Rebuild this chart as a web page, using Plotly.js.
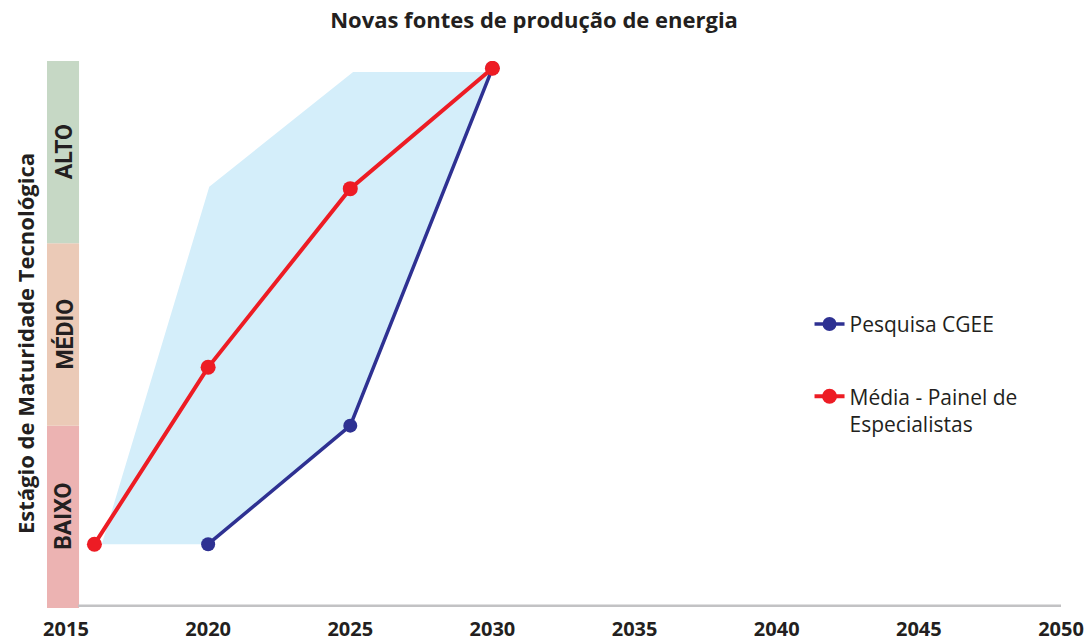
<!DOCTYPE html>
<html>
<head>
<meta charset="utf-8">
<script src="https://cdn.plot.ly/plotly-3.0.1.min.js"></script>
<style>html,body{margin:0;padding:0;background:#fff;}#chart{width:1089px;height:643px;}</style>
</head>
<body>
<div id="chart"></div>
<script>
// Data
const yearsCGEE = [2020, 2025, 2030];
const levelCGEE = [0.35, 1.0, 2.96];
const yearsPainel = [2016, 2020, 2025, 2030];
const levelPainel = [0.35, 1.32, 2.30, 2.96];
// shaded range (upper bound then back along lower bound)
const rangeYears = [2016.26, 2020.04, 2025.1, 2029.8, 2030, 2025, 2020, 2016.26];
const rangeLevels = [0.35, 2.31, 2.94, 2.94, 2.96, 1.0, 0.35, 0.35];
const levelNames = ['BAIXO', 'MÉDIO', 'ALTO'];
const levelColors = ['#ecb3b2', '#ebcab7', '#c6d8c5'];
const xTicks = [2015, 2020, 2025, 2030, 2035, 2040, 2045, 2050];
const seriesNames = ['Pesquisa CGEE', 'Média - Painel de<br>Especialistas'];

const txt = '#231f20';
const fontMain = '"Open Sans", "Noto Sans", sans-serif';

const traces = [
  {x: rangeYears, y: rangeLevels, type: 'scatter', mode: 'lines', fill: 'toself',
   fillcolor: '#d4eefa', line: {width: 0, color: 'rgba(0,0,0,0)'}, showlegend: false, hoverinfo: 'skip'},
  {x: yearsCGEE, y: levelCGEE, type: 'scatter', mode: 'lines+markers', name: seriesNames[0],
   legendgroup: 'a', line: {color: '#2e3192', width: 3.5}, marker: {color: '#2e3192', size: 14}},
  {x: yearsPainel, y: levelPainel, type: 'scatter', mode: 'lines+markers', name: seriesNames[1],
   legendgroup: 'b', line: {color: '#ed1c24', width: 4}, marker: {color: '#ed1c24', size: 15}}
];

const shapes = levelNames.map((n, i) => ({
  type: 'rect', xref: 'paper', yref: 'y', x0: 0, x1: 0.0316, y0: i, y1: i + 1,
  fillcolor: levelColors[i], line: {width: 0}, layer: 'below'
}));
shapes.push({type: 'line', xref: 'paper', yref: 'paper', x0: 0.0306, x1: 1, y0: 0.004, y1: 0.004,
  line: {color: '#c2c2c4', width: 2.5}, layer: 'below'});

const annotations = levelNames.map((n, i) => ({
  text: '<b>' + n + '</b>', xref: 'paper', yref: 'y', x: 0.0168, y: i + 0.5,
  textangle: -90, showarrow: false, xanchor: 'center', yanchor: 'middle',
  font: {family: 'Roboto, sans-serif', size: 23, color: txt}
}));
annotations.push({
  text: '<b>Estágio de Maturidade Tecnológica</b>', xref: 'paper', yref: 'paper',
  x: -0.0217, y: 0.4845, textangle: -90, showarrow: false, xanchor: 'center', yanchor: 'middle',
  font: {family: fontMain, size: 22, color: txt}
});

const layout = {
  width: 1089, height: 643, autosize: false,
  margin: {l: 47, r: 28, t: 61, b: 35},
  paper_bgcolor: '#fff', plot_bgcolor: '#fff',
  title: {text: '<b>Novas fontes de produção de energia</b>', xref: 'container', yref: 'container',
    x: 0.4904, y: 0.969, xanchor: 'center', yanchor: 'middle',
    font: {family: fontMain, size: 22, color: txt}},
  xaxis: {range: [2014.332, 2050], tickvals: xTicks, ticktext: xTicks.map(v => '<b>' + v + '</b>'),
    showgrid: false, zeroline: false, showline: false, ticks: '', ticklabelstandoff: 7,
    tickfont: {family: fontMain, size: 20, color: txt}, fixedrange: true},
  yaxis: {range: [0, 3], showgrid: false, zeroline: false, showline: false, showticklabels: false,
    ticks: '', fixedrange: true},
  legend: {x: 0.752, y: 0.556, xanchor: 'left', yanchor: 'top', traceorder: 'grouped',
    tracegroupgap: 42, valign: 'top', bgcolor: 'rgba(0,0,0,0)',
    font: {family: fontMain, size: 21, color: txt}},
  shapes: shapes,
  annotations: annotations
};

Plotly.newPlot('chart', traces, layout, {displayModeBar: false, staticPlot: true});
</script>
</body>
</html>
